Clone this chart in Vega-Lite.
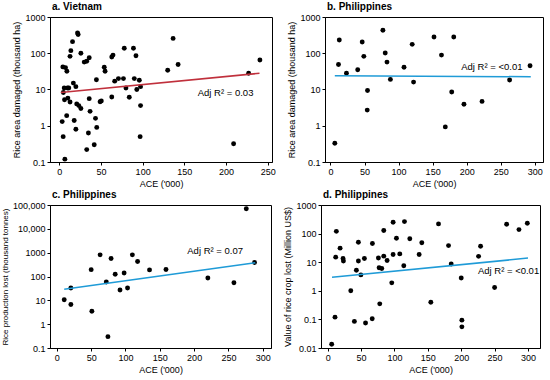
{
  "$schema": "https://vega.github.io/schema/vega-lite/v6.json",
  "background": "white",
  "padding": {"left": 0, "top": 1, "right": 2, "bottom": 2},
  "config": {
    "font": "Liberation Sans",
    "view": {"stroke": "black", "strokeWidth": 1},
    "axis": {"grid": false, "domainColor": "black", "tickColor": "black", "tickSize": 3, "labelColor": "black", "titleColor": "black", "labelFont": "Liberation Sans", "titleFont": "Liberation Sans", "labelFontSize": 9, "titleFontSize": 9, "titleFontWeight": "normal", "labelPadding": 2},
    "title": {"anchor": "start", "frame": "group", "fontSize": 10, "fontWeight": "bold", "font": "Liberation Sans", "offset": 1, "dx": 2}
  },
  "datasets": {
    "a_pts": [
      {"ace":3.6,"val":1.3},{"ace":4.8,"val":0.5},{"ace":6.8,"val":0.12},{"ace":4.4,"val":42},{"ace":7.6,"val":40},{"ace":9.2,"val":32},{"ace":5,"val":8.3},{"ace":6,"val":11},{"ace":10,"val":11},{"ace":11.5,"val":11},{"ace":6.4,"val":5.2},{"ace":10.4,"val":5.8},{"ace":13,"val":4.5},{"ace":9,"val":1.9},{"ace":13,"val":82},{"ace":14,"val":118},{"ace":16,"val":209},{"ace":22,"val":363},{"ace":22.7,"val":330},{"ace":17,"val":15},{"ace":20,"val":12},{"ace":21,"val":4},{"ace":23.5,"val":3.6},{"ace":26,"val":3},{"ace":18,"val":1.4},{"ace":20,"val":0.8},{"ace":26,"val":100},{"ace":30,"val":57},{"ace":33,"val":60},{"ace":36,"val":75},{"ace":36,"val":5.6},{"ace":37,"val":2.5},{"ace":35,"val":0.63},{"ace":33,"val":0.22},{"ace":42,"val":0.3},{"ace":43.5,"val":1.6},{"ace":45,"val":0.9},{"ace":44.6,"val":18.6},{"ace":49,"val":4.6},{"ace":50.5,"val":4.8},{"ace":54,"val":41},{"ace":55,"val":32},{"ace":63,"val":79},{"ace":64.5,"val":89},{"ace":63,"val":6.2},{"ace":66.5,"val":17},{"ace":71,"val":20},{"ace":77,"val":20},{"ace":78,"val":137},{"ace":80,"val":11},{"ace":84,"val":6.1},{"ace":89,"val":137},{"ace":90,"val":20},{"ace":92,"val":85},{"ace":93,"val":10},{"ace":96,"val":18},{"ace":97.5,"val":12},{"ace":97.5,"val":3.6},{"ace":97,"val":0.5},{"ace":130,"val":34},{"ace":136.5,"val":257},{"ace":142.5,"val":49},{"ace":209,"val":0.32},{"ace":227,"val":28},{"ace":240.5,"val":65}
    ],
    "a_fit": [{"ace":2,"val":8.3},{"ace":240,"val":28}],
    "a_lab": [{"ace":166,"val":8,"label":"Adj R² = 0.03"}],
    "b_pts": [
      {"ace":6.4,"val":0.33},{"ace":11.8,"val":49},{"ace":13,"val":232},{"ace":23.5,"val":28},{"ace":40,"val":35},{"ace":46.6,"val":204},{"ace":49,"val":82},{"ace":54.4,"val":9.4},{"ace":54,"val":2.7},{"ace":77,"val":430},{"ace":80.4,"val":102},{"ace":83,"val":57},{"ace":88,"val":19},{"ace":108,"val":41},{"ace":120,"val":176},{"ace":122,"val":16},{"ace":152,"val":280},{"ace":163,"val":89},{"ace":168.6,"val":0.93},{"ace":178,"val":8.5},{"ace":181,"val":280},{"ace":196,"val":3.9},{"ace":222.5,"val":4.7},{"ace":263,"val":18.3},{"ace":293,"val":45}
    ],
    "b_fit": [{"ace":6.4,"val":24},{"ace":294,"val":22.5}],
    "b_lab": [{"ace":192,"val":43,"label":"Adj R² = <0.01"}],
    "c_pts": [
      {"ace":10.7,"val":10.6},{"ace":20.4,"val":6.7},{"ace":20.4,"val":33},{"ace":50,"val":194},{"ace":51,"val":3.5},{"ace":63,"val":810},{"ace":72,"val":59},{"ace":74.4,"val":0.3},{"ace":79,"val":570},{"ace":85,"val":124},{"ace":92,"val":27},{"ace":98,"val":141},{"ace":103,"val":33},{"ace":110,"val":810},{"ace":117.6,"val":423},{"ace":135,"val":189},{"ace":159,"val":198},{"ace":220,"val":87},{"ace":258,"val":55},{"ace":276,"val":70000},{"ace":288,"val":384}
    ],
    "c_fit": [{"ace":10.7,"val":29},{"ace":289,"val":380}],
    "c_lab": [{"ace":190,"val":1150,"label":"Adj R² = 0.07"}],
    "d_pts": [
      {"ace":6,"val":0.0135},{"ace":11,"val":0.12},{"ace":12,"val":15},{"ace":13,"val":120},{"ace":18.6,"val":31},{"ace":23,"val":13.5},{"ace":23.6,"val":11},{"ace":34.6,"val":1.0},{"ace":40,"val":0.085},{"ace":43,"val":5.2},{"ace":46,"val":11},{"ace":46,"val":50},{"ace":49.7,"val":3.6},{"ace":55,"val":13.5},{"ace":56.7,"val":0.075},{"ace":66.7,"val":0.105},{"ace":67,"val":45},{"ace":76,"val":14},{"ace":77,"val":6.4},{"ace":78,"val":0.35},{"ace":81,"val":6},{"ace":84,"val":128},{"ace":84,"val":16.3},{"ace":89,"val":11.5},{"ace":96,"val":1.9},{"ace":98,"val":18.6},{"ace":98,"val":250},{"ace":103,"val":69},{"ace":108,"val":19.5},{"ace":114,"val":7.5},{"ace":115,"val":263},{"ace":123,"val":66},{"ace":137,"val":18.6},{"ace":141,"val":48},{"ace":154.5,"val":0.4},{"ace":166,"val":218},{"ace":181,"val":38},{"ace":185,"val":8.6},{"ace":200,"val":2.8},{"ace":201,"val":0.094},{"ace":201,"val":0.055},{"ace":226,"val":16},{"ace":229,"val":36},{"ace":250,"val":1.3},{"ace":268,"val":212},{"ace":286.5,"val":138},{"ace":299,"val":230}
    ],
    "d_fit": [{"ace":6.5,"val":2.95},{"ace":300,"val":13.9}],
    "d_lab": [{"ace":225,"val":4.8,"label":"Adj R² = <0.01"}]
  },
  "spacing": 0,
  "vconcat": [
    {
      "spacing": 11,
      "hconcat": [
        {
          "width": 222, "height": 145,
          "title": {"text": "a. Vietnam"},
          "encoding": {
            "x": {"field": "ace", "type": "quantitative", "scale": {"domain": [-11, 255], "nice": false, "zero": false}, "axis": {"title": "ACE ('000)", "values": [0,50,100,150,200,250], "titlePadding": 3}},
            "y": {"field": "val", "type": "quantitative", "scale": {"type": "log", "domain": [0.1, 1000], "nice": false}, "axis": {"title": "Rice area damaged (thousand ha)", "values": [0.1,1,10,100,1000], "labelExpr": "format(datum.value, '~g')", "titlePadding": 3}}
          },
          "layer": [
            {"data": {"name": "a_pts"}, "mark": {"type": "circle", "size": 24, "color": "black", "opacity": 1}},
            {"data": {"name": "a_fit"}, "mark": {"type": "line", "color": "#c0303c", "strokeWidth": 1.5}},
            {"data": {"name": "a_lab"}, "mark": {"type": "text", "align": "left", "baseline": "middle", "fontSize": 9.5}, "encoding": {"text": {"field": "label"}}}
          ]
        },
        {
          "width": 218, "height": 145,
          "title": {"text": "b. Philippines"},
          "encoding": {
            "x": {"field": "ace", "type": "quantitative", "scale": {"domain": [-8, 312], "nice": false, "zero": false}, "axis": {"title": "ACE ('000)", "values": [0,50,100,150,200,250,300], "titlePadding": 3}},
            "y": {"field": "val", "type": "quantitative", "scale": {"type": "log", "domain": [0.1, 1000], "nice": false}, "axis": {"title": "Rice area damaged (thousand ha)", "values": [0.1,1,10,100,1000], "labelExpr": "format(datum.value, '~g')", "titlePadding": 3}}
          },
          "layer": [
            {"data": {"name": "b_pts"}, "mark": {"type": "circle", "size": 24, "color": "black", "opacity": 1}},
            {"data": {"name": "b_fit"}, "mark": {"type": "line", "color": "#1f9bd7", "strokeWidth": 1.5}},
            {"data": {"name": "b_lab"}, "mark": {"type": "text", "align": "left", "baseline": "middle", "fontSize": 9.5}, "encoding": {"text": {"field": "label"}}}
          ]
        }
      ]
    },
    {
      "spacing": 11,
      "hconcat": [
        {
          "width": 221, "height": 143,
          "title": {"text": "c. Philippines"},
          "encoding": {
            "x": {"field": "ace", "type": "quantitative", "scale": {"domain": [-10, 312], "nice": false, "zero": false}, "axis": {"title": "ACE ('000)", "values": [0,50,100,150,200,250,300], "titlePadding": 3}},
            "y": {"field": "val", "type": "quantitative", "scale": {"type": "log", "domain": [0.1, 100000], "nice": false}, "axis": {"title": "Rice production lost (thousand tonnes)", "titleFontSize": 8, "values": [0.1,1,10,100,1000,10000,100000], "labelExpr": "datum.value >= 10000 ? format(datum.value, ',.0f') : format(datum.value, '~g')", "titlePadding": 3}}
          },
          "layer": [
            {"data": {"name": "c_pts"}, "mark": {"type": "circle", "size": 24, "color": "black", "opacity": 1}},
            {"data": {"name": "c_fit"}, "mark": {"type": "line", "color": "#1f9bd7", "strokeWidth": 1.5}},
            {"data": {"name": "c_lab"}, "mark": {"type": "text", "align": "left", "baseline": "middle", "fontSize": 9.5}, "encoding": {"text": {"field": "label"}}}
          ]
        },
        {
          "width": 219, "height": 143,
          "title": {"text": "d. Philippines"},
          "encoding": {
            "x": {"field": "ace", "type": "quantitative", "scale": {"domain": [-10, 318], "nice": false, "zero": false}, "axis": {"title": "ACE ('000)", "values": [0,50,100,150,200,250,300], "titlePadding": 3}},
            "y": {"field": "val", "type": "quantitative", "scale": {"type": "log", "domain": [0.01, 1000], "nice": false}, "axis": {"title": "Value of rice crop lost (Million US$)", "values": [0.01,0.1,1,10,100,1000], "labelExpr": "format(datum.value, '~g')", "titlePadding": 3}}
          },
          "layer": [
            {"data": {"name": "d_pts"}, "mark": {"type": "circle", "size": 24, "color": "black", "opacity": 1}},
            {"data": {"name": "d_fit"}, "mark": {"type": "line", "color": "#1f9bd7", "strokeWidth": 1.5}},
            {"data": {"name": "d_lab"}, "mark": {"type": "text", "align": "left", "baseline": "middle", "fontSize": 9.5}, "encoding": {"text": {"field": "label"}}}
          ]
        }
      ]
    }
  ]
}
